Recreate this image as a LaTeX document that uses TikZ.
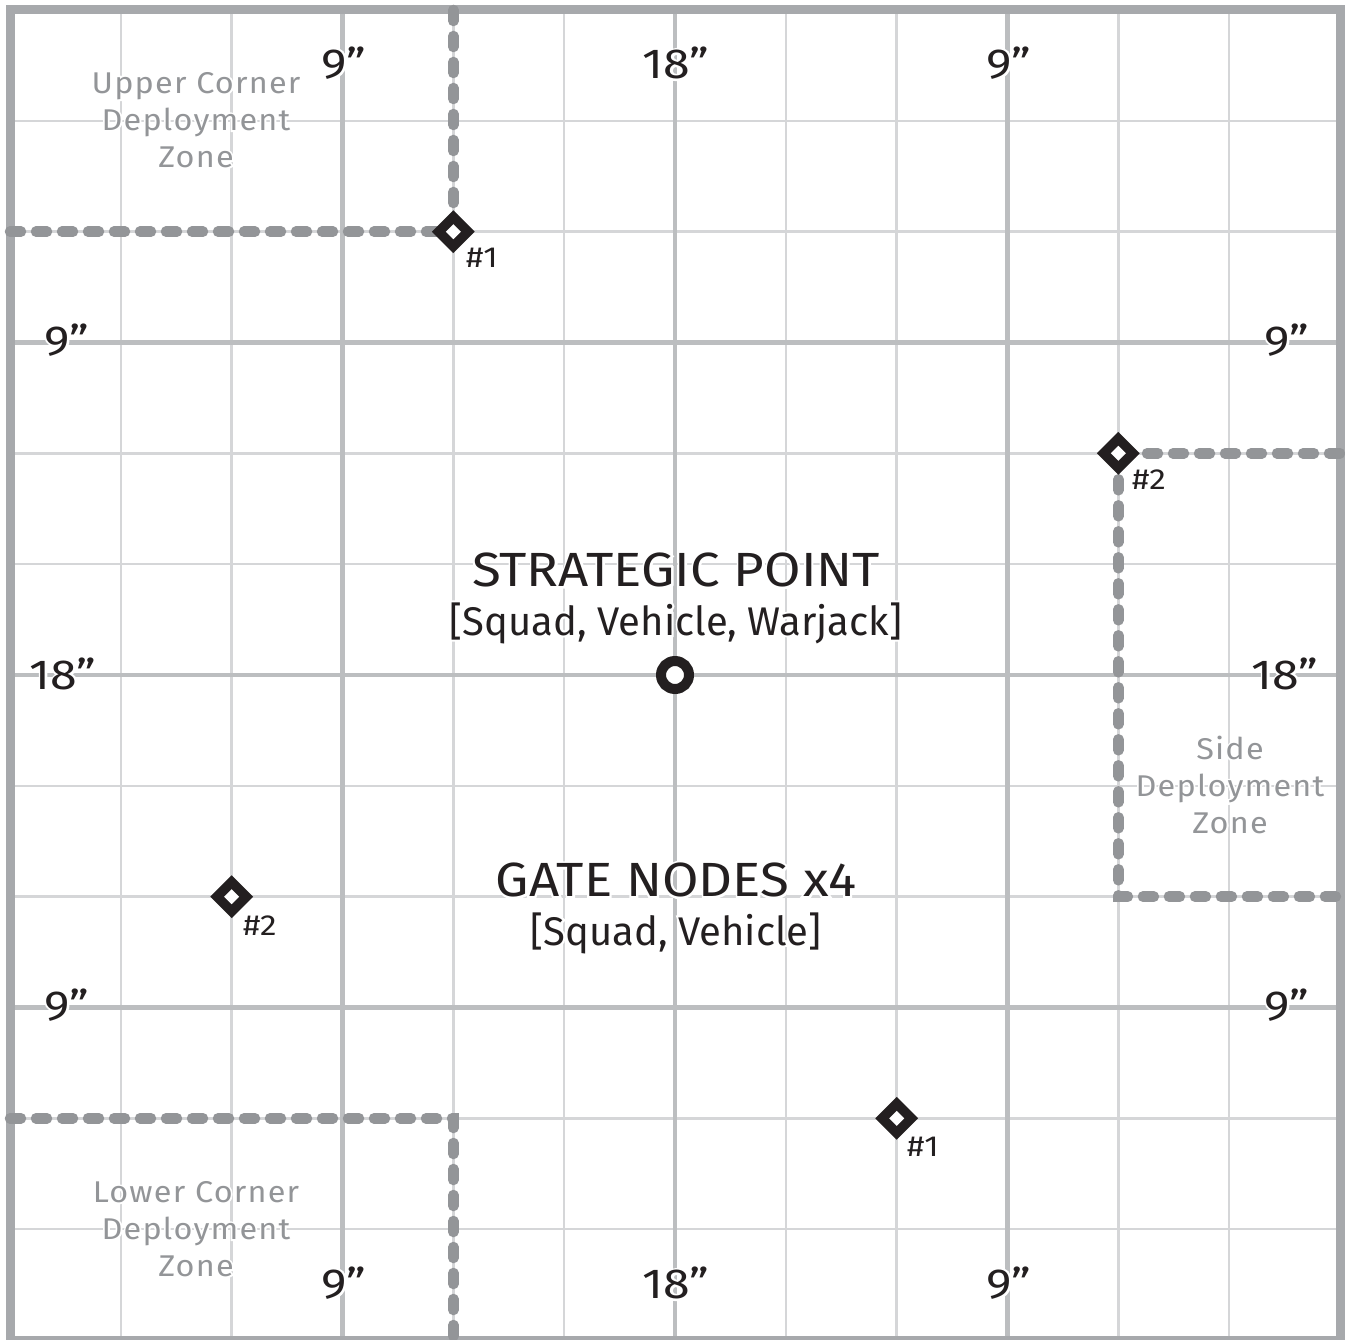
\documentclass[tikz,border=0pt]{standalone}
\usepackage{fontspec}
\setmainfont{Fira Sans}
\newfontfamily\subhalo{Fira Sans}[FakeBold=10]
\newfontfamily\titlefont{Fira Sans}[FakeStretch=1.1]
\newfontfamily\titlehalo{Fira Sans}[FakeStretch=1.1, FakeBold=9]
\newfontfamily\measfont{Fira Sans}[FakeStretch=1.15]
\newfontfamily\meashalo{Fira Sans}[FakeStretch=1.15, FakeBold=10]
\newfontfamily\zonefont{Fira Sans}[FakeStretch=1.08, LetterSpace=4]
\newfontfamily\zonehalo{Fira Sans}[FakeStretch=1.08, LetterSpace=4, FakeBold=12]
\newcommand\hl[2]{\rlap{\color{white}#1#2}#2}
\usetikzlibrary{shapes.geometric}
\definecolor{bordergray}{HTML}{A7A9AC}
\definecolor{thickgray}{HTML}{BCBEC0}
\definecolor{thingray}{HTML}{D5D6D8}
\definecolor{zonegray}{HTML}{939598}
\definecolor{ink}{HTML}{231F20}
\begin{document}
\begin{tikzpicture}[x=1pt,y=-1pt,
  thingrid/.style={draw=thingray, line width=2.5pt},
  thickgrid/.style={draw=thickgray, line width=4.5pt},
  boardedge/.style={draw=bordergray, line width=9pt},
  zoneline/.style={draw=zonegray, line width=10.5pt, line cap=round, dash pattern=on 11pt off 15pt},
  marker/.style={diamond, aspect=1, fill=ink, minimum size=43pt, inner sep=0pt,
    path picture={\fill[white] ([xshift=-7.5pt]path picture bounding box.center) -- ++(7.5pt,7.5pt) -- ++(7.5pt,-7.5pt) -- ++(-7.5pt,-7.5pt) -- cycle;}},
  spoint/.style={circle, draw=ink, line width=10pt, fill=white, minimum size=28pt, inner sep=0pt},
  mlabel/.style={text=ink, font=\measfont\fontsize{29}{32}\selectfont, anchor=west, inner sep=0pt},
  meas/.style={text=ink, font=\measfont\fontsize{42}{46}\selectfont, inner sep=0pt},
  zonelabel/.style={text=zonegray, font=\zonefont\fontsize{30}{37}\selectfont, align=center, inner sep=0pt},
  title/.style={text=ink, font=\titlefont\fontsize{48}{54}\selectfont, inner sep=0pt},
  subtitle/.style={text=ink, font=\fontsize{40}{44}\selectfont, inner sep=0pt}]
\useasboundingbox (0,0) rectangle (1345,1340);
\fill[white] (0,0) rectangle (1345,1340);
% grid
\foreach \i in {1,2,4,5,7,8,10,11}{
  \draw[thingrid] ({10+110.833*\i},10) -- ({10+110.833*\i},1340);
  \draw[thingrid] (10,{10+110.833*\i}) -- (1340,{10+110.833*\i});
}
\foreach \i in {3,6,9}{
  \draw[thickgrid] ({10+110.833*\i},10) -- ({10+110.833*\i},1340);
  \draw[thickgrid] (10,{10+110.833*\i}) -- (1340,{10+110.833*\i});
}
\draw[boardedge] (10,10) rectangle (1340,1340);
% zone edge coordinates
\coordinate (ua) at (10,231.7);
\coordinate (ub) at (453.3,10);
\coordinate (sa) at (1340,453.3);
\coordinate (sc) at (1118.3,896.7);
\coordinate (sb) at (1340,896.7);
\coordinate (la) at (10,1118.3);
\coordinate (lc) at (453.3,1118.3);
\coordinate (lb) at (453.3,1340);
\coordinate (p1) at (453.3,231.7);
\coordinate (p2) at (1118.3,453.3);
% zones
\draw[zoneline] (ua) -- (p1);
\draw[zoneline] (ub) -- (p1);
\draw[zoneline] (sa) -- (p2);
\draw[zoneline] (p2) -- (sc) -- (sb);
\draw[zoneline] (la) -- (lc) -- (lb);
% markers
\node[marker] (g1) at (p1) {};
\node[marker] (g2) at (p2) {};
\node[marker] (g3) at (231.7,896.7) {};
\node[marker] (g4) at (896.7,1118.3) {};
\node[spoint] (sp) at (675,675) {};
% marker labels
\node[mlabel] (l1) at (466,258) {\#1};
\node[mlabel] (l2) at (1132,480) {\#2};
\node[mlabel] (l3) at (243,926) {\#2};
\node[mlabel] (l4) at (907,1147) {\#1};
% measurements
\node[meas] (t1) at (344,63) {\hl{\meashalo}{9”}};
\node[meas] (t2) at (676,63) {\hl{\meashalo}{18”}};
\node[meas] (t3) at (1009,63) {\hl{\meashalo}{9”}};
\node[meas] (b1) at (344,1283) {\hl{\meashalo}{9”}};
\node[meas] (b2) at (676,1283) {\hl{\meashalo}{18”}};
\node[meas] (b3) at (1009,1283) {\hl{\meashalo}{9”}};
\node[meas] (lf1) at (67,340) {\hl{\meashalo}{9”}};
\node[meas] (lf2) at (63,674) {\hl{\meashalo}{18”}};
\node[meas] (lf3) at (67,1005) {\hl{\meashalo}{9”}};
\node[meas] (r1) at (1287,340) {\hl{\meashalo}{9”}};
\node[meas] (r2) at (1285,674) {\hl{\meashalo}{18”}};
\node[meas] (r3) at (1287,1005) {\hl{\meashalo}{9”}};
% zone labels
\node[zonelabel] (uz) at (196,120) {\hl{\zonehalo}{Upper Corner}\\\hl{\zonehalo}{Deployment}\\\hl{\zonehalo}{Zone}};
\node[zonelabel] (lz) at (196,1229) {\hl{\zonehalo}{Lower Corner}\\\hl{\zonehalo}{Deployment}\\\hl{\zonehalo}{Zone}};
\node[zonelabel] (sz) at (1230,785) {\hl{\zonehalo}{Side}\\\hl{\zonehalo}{Deployment}\\\hl{\zonehalo}{Zone}};
% central texts
\node[title] (spt) at (676,570) {\hl{\titlehalo}{STRATEGIC POINT}};
\node[subtitle] (sps) at (676,623) {\hl{\subhalo}{[Squad, Vehicle, Warjack]}};
\node[title] (gnt) at (676,880) {\hl{\titlehalo}{GATE NODES x4}};
\node[subtitle] (gns) at (676,933) {\hl{\subhalo}{[Squad, Vehicle]}};
\end{tikzpicture}
\end{document}
